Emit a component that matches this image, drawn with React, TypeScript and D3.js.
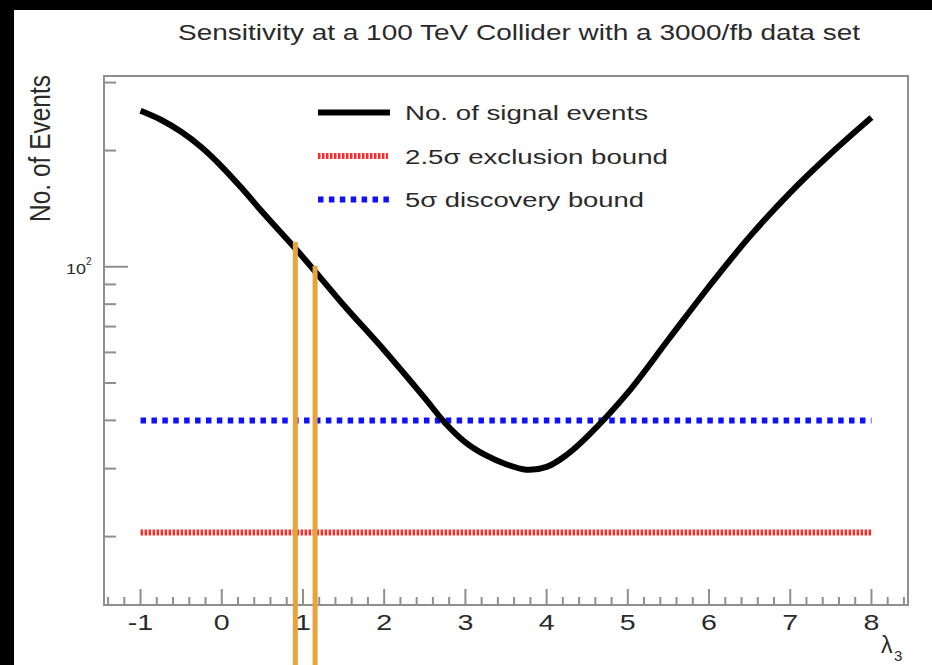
import React from 'react';
import * as d3 from 'd3';

const lambdaVals = [-1, -0.75, -0.5, -0.25, 0, 0.25, 0.5, 1, 1.5, 2, 2.5, 2.75, 3, 3.25, 3.5, 3.75, 4, 4.25, 4.5, 5, 5.5, 6, 6.5, 7, 7.5, 8];
const signalEvents = [253.5, 240.3, 223.7, 204.0, 181.8, 159.4, 138.6, 105.9, 79.6, 60.8, 45.7, 39.4, 35.1, 32.5, 30.8, 29.8, 30.3, 32.6, 36.3, 47.2, 64.8, 88.9, 119.7, 155.7, 196.5, 243.5];
const exclusionBound = 20.5;
const discoveryBound = 40;
const boundRange = [-1, 8];
const markerLambdas = [0.906, 1.149];
const markerTops = [116, 100.6];
const xTickVals = [-1, 0, 1, 2, 3, 4, 5, 6, 7, 8];
const yTickVals = [20, 30, 40, 50, 60, 70, 80, 90, 100, 200, 300];
const legendLabels = ['No. of signal events', '2.5σ exclusion bound', '5σ discovery bound'];
const titleText = 'Sensitivity at a 100 TeV Collider with a 3000/fb data set';
const yLabel = 'No. of Events';

const FONT = "'Liberation Sans', Arial, Helvetica, sans-serif";

export default function App() {
  const W = 932, H = 665;
  const x = d3.scaleLinear().domain([-1.45, 8.45]).range([104, 908]);
  const y = d3.scaleLog().domain([13.3, 312]).range([605, 76]);
  const pts = lambdaVals.map((l, i) => [l, signalEvents[i]] as [number, number]);
  const line = d3.line<[number, number]>().x(d => x(d[0])).y(d => y(d[1])).curve(d3.curveCatmullRom.alpha(0.5));
  const minorTicks = d3.range(-7, 43).filter(i => ((i % 5) + 5) % 5 !== 0).map(i => i * 0.2);
  const axisColor = '#8f8f8f';
  const textColor = '#2a2a2a';
  const redColor = '#ff2b2b';
  const blueColor = '#1010ff';
  const orange = '#e9a33c';
  const legendY = [112.5, 156, 199.5];
  const legendLen = [243, 263, 239];

  return (
    <svg width={W} height={H} style={{ position: 'absolute', left: 0, top: 0, display: 'block', background: '#fff' }} fontFamily={FONT}>
      <rect x={0} y={0} width={W} height={H} fill="#fff" />
      <rect x={0} y={0} width={W} height={10} fill="#000" />
      <rect x={0} y={0} width={14} height={H} fill="#000" />

      {/* title */}
      <text x={519} y={40} textAnchor="middle" fontSize={22} fill={textColor} textLength={682} lengthAdjust="spacingAndGlyphs">{titleText}</text>

      {/* y label */}
      <text transform="translate(50,222) scale(1.25,1) rotate(-90)" fontSize={24} fill={textColor} textLength={147} lengthAdjust="spacingAndGlyphs">{yLabel}</text>

      {/* frame */}
      <rect x={104} y={76} width={804} height={529} fill="none" stroke={axisColor} strokeWidth={2} />

      {/* x ticks */}
      {xTickVals.map(v => (
        <line key={'xt' + v} x1={x(v)} x2={x(v)} y1={605} y2={589} stroke={axisColor} strokeWidth={2} />
      ))}
      {minorTicks.map(v => (
        <line key={'xm' + v} x1={x(v)} x2={x(v)} y1={605} y2={597} stroke={axisColor} strokeWidth={2} />
      ))}
      {xTickVals.map(v => (
        <text key={'xl' + v} transform={`translate(${x(v)},630) scale(1.3,1)`} textAnchor="middle" fontSize={22} fill={textColor}>{v}</text>
      ))}
      <text x={881} y={653} fontSize={23} fill={textColor}>λ</text>
      <text x={894} y={661} fontSize={15} fill={textColor}>3</text>

      {/* y ticks */}
      {yTickVals.map(v => (
        <line key={'yt' + v} x1={104} x2={v === 100 ? 128 : 116} y1={y(v)} y2={y(v)} stroke={axisColor} strokeWidth={2} />
      ))}
      <text transform="translate(86,274) scale(1.2,1)" textAnchor="end" fontSize={15} fill={textColor}>10</text>
      <text x={86} y={265} fontSize={10} fill={textColor}>2</text>

      {/* bounds */}
      <line x1={x(boundRange[0])} x2={x(boundRange[1])} y1={y(exclusionBound)} y2={y(exclusionBound)} stroke={redColor} strokeWidth={6} strokeDasharray="2.5 1.5" />
      <line x1={x(boundRange[0])} x2={x(boundRange[1])} y1={y(discoveryBound)} y2={y(discoveryBound)} stroke={blueColor} strokeWidth={6} strokeDasharray="5.5 5.4" />

      {/* signal curve */}
      <path d={line(pts) || ''} fill="none" stroke="#000" strokeWidth={6} />

      {/* legend */}
      <line x1={318} x2={390} y1={legendY[0]} y2={legendY[0]} stroke="#000" strokeWidth={6} />
      <line x1={318} x2={388} y1={legendY[1]} y2={legendY[1]} stroke={redColor} strokeWidth={6} strokeDasharray="2.5 1.5" />
      <line x1={318} x2={390} y1={legendY[2]} y2={legendY[2]} stroke={blueColor} strokeWidth={6} strokeDasharray="5.5 5.4" />
      {legendLabels.map((t, i) => (
        <text key={'lg' + i} x={405} y={legendY[i] + 7.5} fontSize={20} fill={textColor} textLength={legendLen[i]} lengthAdjust="spacingAndGlyphs">{t}</text>
      ))}

      {/* orange markers */}
      {markerLambdas.map((l, i) => (
        <line key={'om' + i} x1={x(l)} x2={x(l)} y1={y(markerTops[i])} y2={H} stroke={orange} strokeWidth={5} />
      ))}
    </svg>
  );
}
